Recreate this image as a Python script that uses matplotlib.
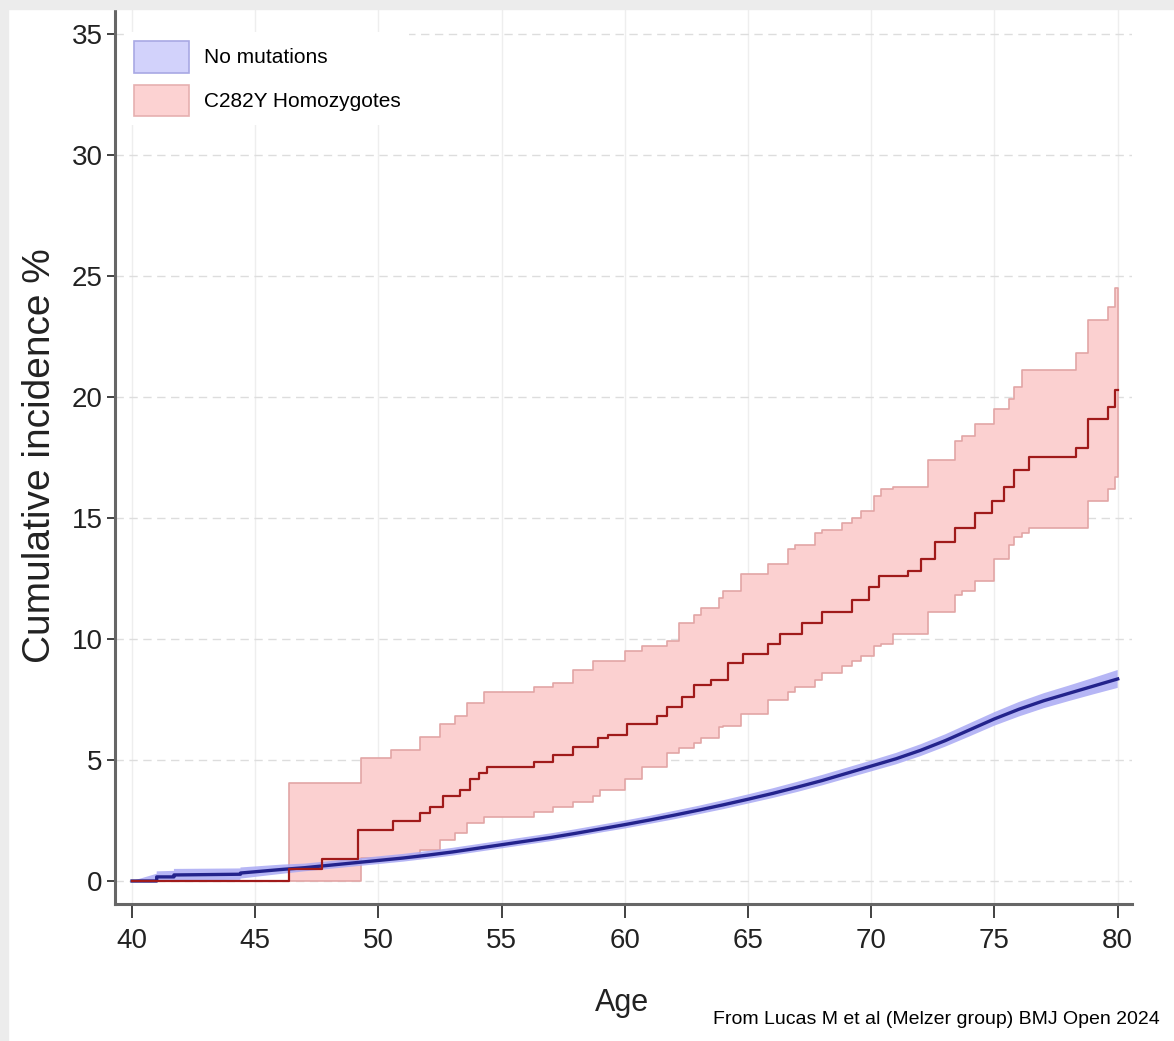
import matplotlib
matplotlib.use("Agg")
import matplotlib.pyplot as plt
from matplotlib import font_manager
from matplotlib.patches import Patch, Rectangle

# fonts - the original uses a condensed Arial-ish face
names = {f.name for f in font_manager.fontManager.ttflist}
narrow = "Liberation Sans Narrow" if "Liberation Sans Narrow" in names else "Liberation Sans"
is_narrow = narrow == "Liberation Sans Narrow"

# ---- data ----
x_ticks = [40, 45, 50, 55, 60, 65, 70, 75, 80]
y_ticks = [0, 5, 10, 15, 20, 25, 30, 35]

# C282Y homozygotes, step estimate
red_age = [40.0, 46.35, 47.7, 49.15, 50.6, 51.7, 52.1, 52.6, 53.3, 53.7, 54.1, 54.4,
           56.3, 57.1, 57.9, 58.9, 59.3, 60.1, 61.3, 61.7, 62.3, 62.8, 63.5, 64.2,
           64.8, 65.8, 66.3, 67.2, 68.0, 69.2, 69.9, 70.3, 71.5, 72.0, 72.6, 73.4,
           74.2, 74.9, 75.4, 75.8, 76.4, 78.3, 78.8, 79.6, 79.9, 80.0]
red_mid = [0.0, 0.5, 0.9, 2.1, 2.5, 2.8, 3.05, 3.5, 3.75, 4.2, 4.45, 4.7,
           4.9, 5.2, 5.55, 5.9, 6.05, 6.5, 6.8, 7.2, 7.6, 8.1, 8.3, 9.0,
           9.4, 9.8, 10.2, 10.65, 11.1, 11.6, 12.15, 12.6, 12.8, 13.3, 14.0, 14.6,
           15.2, 15.7, 16.3, 17.0, 17.5, 17.9, 19.1, 19.6, 20.3, 20.3]

# C282Y confidence band
red_band_age = [40.0, 46.35, 49.3, 50.5, 51.7, 52.5, 53.1, 53.6, 54.3, 56.3, 57.1, 57.9,
                58.7, 59.0, 60.0, 60.7, 61.7, 62.2, 62.8, 63.1, 63.8, 64.0, 64.7, 65.8,
                66.6, 66.9, 67.7, 68.0, 68.8, 69.2, 69.6, 70.1, 70.4, 70.9, 72.3, 73.4,
                73.7, 74.2, 75.0, 75.6, 75.8, 76.1, 76.4, 78.3, 78.8, 79.6, 79.9, 80.0]
red_lo = [0.0, 0.0, 0.95, 0.95, 1.3, 1.7, 2.0, 2.4, 2.65, 2.85, 3.05, 3.25,
          3.5, 3.75, 4.2, 4.7, 5.3, 5.5, 5.7, 5.9, 6.35, 6.4, 6.9, 7.5,
          7.8, 8.0, 8.3, 8.6, 8.9, 9.1, 9.3, 9.7, 9.8, 10.2, 11.1, 11.8,
          12.0, 12.4, 13.3, 13.9, 14.2, 14.4, 14.6, 14.6, 15.7, 16.2, 16.7, 16.7]
red_hi = [0.0, 4.05, 5.1, 5.4, 5.95, 6.5, 6.8, 7.35, 7.8, 8.0, 8.2, 8.7,
          9.1, 9.1, 9.5, 9.7, 9.9, 10.65, 11.0, 11.3, 11.7, 12.0, 12.7, 13.1,
          13.7, 13.9, 14.4, 14.5, 14.8, 15.0, 15.3, 15.9, 16.2, 16.3, 17.4, 18.2,
          18.4, 18.9, 19.5, 19.9, 20.4, 21.1, 21.1, 21.8, 23.2, 23.7, 24.5, 24.5]

# no mutations
blue_age = [40.0, 41.0, 41.0, 41.7, 41.7, 44.4, 44.4, 46.1, 47, 48, 49, 50, 51, 52, 53,
            54, 55, 56, 57, 58, 59, 60, 61, 62, 63, 64, 65, 66, 67, 68, 69, 70,
            71, 72, 73, 74, 75, 76, 77, 78, 79, 80]
blue_val = [0.0, 0.0, 0.17, 0.17, 0.25, 0.28, 0.33, 0.48, 0.55, 0.65, 0.75, 0.85, 0.95, 1.07, 1.2,
            1.35, 1.5, 1.65, 1.8, 1.97, 2.15, 2.33, 2.52, 2.72, 2.93, 3.15, 3.38, 3.62, 3.88, 4.15, 4.45, 4.75,
            5.05, 5.4, 5.8, 6.25, 6.7, 7.1, 7.45, 7.75, 8.05, 8.35]
blue_lo = [0.0, 0.0, 0.0, 0.0, 0.02, 0.05, 0.1, 0.3, 0.4, 0.5, 0.6, 0.7, 0.8, 0.92, 1.05,
           1.2, 1.35, 1.5, 1.65, 1.82, 2.0, 2.17, 2.36, 2.55, 2.76, 2.97, 3.2, 3.43, 3.68, 3.95, 4.24, 4.53,
           4.82, 5.16, 5.55, 5.98, 6.42, 6.8, 7.14, 7.43, 7.71, 7.98]
blue_hi = [0.0, 0.3, 0.4, 0.42, 0.5, 0.52, 0.56, 0.68, 0.72, 0.82, 0.92, 1.02, 1.12, 1.24, 1.37,
           1.52, 1.67, 1.82, 1.97, 2.14, 2.32, 2.5, 2.69, 2.9, 3.11, 3.34, 3.58, 3.83, 4.1, 4.38, 4.68, 4.98,
           5.29, 5.65, 6.06, 6.52, 6.98, 7.4, 7.76, 8.07, 8.39, 8.72]

fig = plt.figure(figsize=(11.74, 10.41), dpi=100)
ax = fig.add_axes([0.098, 0.1316, 0.866, 0.859])

# grey frame strips on left/top like the screenshot
fig.patches.append(Rectangle((0, 0), 8 / 1174, 1, transform=fig.transFigure,
                             color="#ececec", zorder=0))
fig.patches.append(Rectangle((0, 1 - 9 / 1041), 1, 9 / 1041, transform=fig.transFigure,
                             color="#ececec", zorder=0))

red_fill = "#fbd0d0"
red_edge = "#e2a5a5"
blue_fill = "#a9a9f4"

ax.fill_between(red_band_age, red_lo, red_hi, step="post", facecolor=red_fill,
                edgecolor=red_edge, linewidth=1.2, zorder=2)
ax.fill_between(blue_age, blue_lo, blue_hi, facecolor=blue_fill, edgecolor="none",
                alpha=0.85, zorder=3)
ax.plot(blue_age, blue_val, color="#23238c", lw=2.4, zorder=4)
ax.step(red_age, red_mid, where="post", color="#a01a1a", lw=1.6, zorder=5)

ax.set_xlim(39.31, 80.57)
ax.set_ylim(-0.95, 36.0)
ax.set_xticks(x_ticks)
ax.set_yticks(y_ticks)

# grid: faint solid verticals, dashed horizontals
for x in x_ticks:
    ax.axvline(x, color="#eeeeee", lw=1.0, zorder=0)
for y in y_ticks:
    ax.axhline(y, color="#dddddd", lw=1.0, ls=(0, (6, 4)), zorder=0)

for side in ["top", "right"]:
    ax.spines[side].set_visible(False)
for side in ["left", "bottom"]:
    ax.spines[side].set_color("#666666")
    ax.spines[side].set_linewidth(2.2)

tick_size = 23 if is_narrow else 20
ax.tick_params(axis="x", length=10, width=1.3, color="#333333", pad=7,
               labelsize=tick_size, labelcolor="#222222")
ax.tick_params(axis="y", length=6, width=1.3, color="#333333", pad=3,
               labelsize=tick_size, labelcolor="#222222")
for lab in ax.get_xticklabels() + ax.get_yticklabels():
    lab.set_family(narrow)

leg_size = 17 if is_narrow else 15
handles = [Patch(facecolor="#d2d2fb", edgecolor="#a8a8e4", lw=1.2),
           Patch(facecolor="#fcd2d2", edgecolor="#e6b0b0", lw=1.2)]
leg = ax.legend(handles, ["No mutations", "C282Y Homozygotes"], loc="upper left",
                bbox_to_anchor=(0.0104, 0.9747), borderaxespad=0, borderpad=0.4,
                handlelength=2.64, handleheight=1.97, labelspacing=0.58,
                handletextpad=0.72, frameon=True, framealpha=1, edgecolor="none",
                facecolor="white", fancybox=False,
                prop={"family": narrow, "size": leg_size})
leg.set_zorder(6)

fig.text(40 / 1174, 1 - 456 / 1041, "Cumulative incidence %", rotation=90,
         ha="center", va="center", fontsize=28, family="Liberation Sans", color="#222222")
fig.text(622 / 1174, 1 - 1003 / 1041, "Age", ha="center", va="center",
         fontsize=25 if is_narrow else 22, family=narrow, color="#222222")
fig.text(1160 / 1174, 1 - 1020 / 1041, "From Lucas M et al (Melzer group) BMJ Open 2024",
         ha="right", va="center", fontsize=14, family=narrow, color="black")

fig.savefig("out.png", dpi=100, facecolor="white")
